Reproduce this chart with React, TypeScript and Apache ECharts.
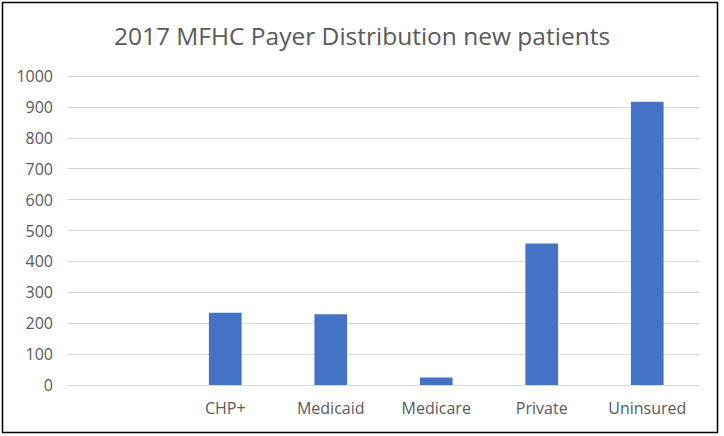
import React, { useEffect, useRef } from "react";
import * as echarts from "echarts";

const categories = ["", "CHP+", "Medicaid", "Medicare", "Private", "Uninsured"];
const values: (number | null)[] = [null, 234, 229, 24, 458, 917];
const titleText = "2017 MFHC Payer Distribution new patients";

export default function App() {
  const ref = useRef<HTMLDivElement>(null);
  useEffect(() => {
    const chart = echarts.init(ref.current!, null, { renderer: "svg" });
    chart.setOption({
      animation: false,
      backgroundColor: "#ffffff",
      title: {
        text: titleText,
        left: "center",
        top: 18,
        textStyle: { fontFamily: "Open Sans", fontSize: 24.5, fontWeight: "normal", color: "#595959" },
      },
      graphic: [
        {
          type: "rect",
          shape: { x: 2.5, y: 2.5, width: 715, height: 430 },
          style: { fill: "none", stroke: "#000000", lineWidth: 1.5 },
          silent: true,
        },
      ],
      grid: { left: 67, right: 24, top: 76, bottom: 51 },
      xAxis: {
        type: "category",
        data: categories,
        axisLine: { show: true, lineStyle: { color: "#d9d9d9" } },
        axisTick: { show: false },
        axisLabel: { color: "#595959", fontSize: 16, fontFamily: "Open Sans", margin: 15 },
      },
      yAxis: {
        type: "value",
        min: 0,
        max: 1000,
        interval: 100,
        axisLine: { show: false },
        axisTick: { show: false },
        splitLine: { lineStyle: { color: "#d9d9d9" } },
        axisLabel: {
          color: "#595959",
          fontSize: 16,
          fontFamily: "Open Sans",
          margin: 14,
          formatter: (v: number) => String(v),
        },
      },
      series: [
        {
          type: "bar",
          data: values,
          barWidth: "31%",
          itemStyle: { color: "#4472c4" },
        },
      ],
    });
    return () => chart.dispose();
  }, []);
  return (
    <div
      ref={ref}
      style={{ position: "absolute", left: 0, top: 0, width: 724, height: 436 }}
    />
  );
}
